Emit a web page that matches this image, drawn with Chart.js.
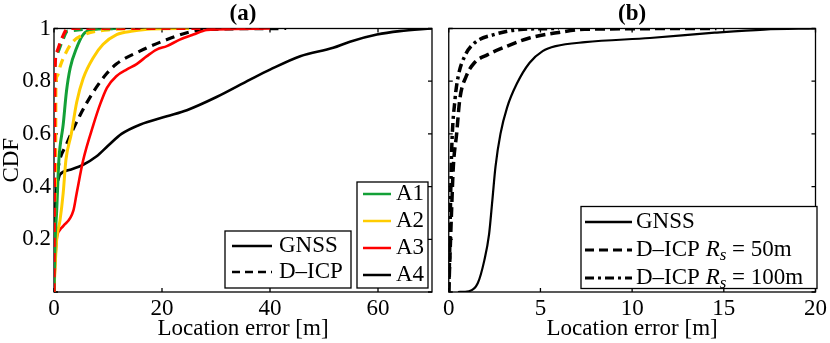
<!DOCTYPE html>
<html>
<head>
<meta charset="utf-8">
<script src="https://cdn.jsdelivr.net/npm/chart.js@4.4.1/dist/chart.umd.min.js"></script>
<style>
  html, body { margin: 0; padding: 0; background: #fff; }
  #wrap { position: relative; width: 830px; height: 343px; }
  #leftBox { position: absolute; left: 0; top: 0; width: 440px; height: 343px; }
  #rightBox { position: absolute; left: 440px; top: 0; width: 390px; height: 343px; }
</style>
</head>
<body>
<div id="wrap">
  <div id="leftBox"><canvas id="chartA"></canvas></div>
  <div id="rightBox"><canvas id="chartB"></canvas></div>
</div>
<script>
// ---- panel (a): CDF of location error per area, GNSS (solid) vs D-ICP (dashed)
var a1GnssX = [0, 0.1, 0.2, 0.5, 0.9, 1.7, 2.3, 3, 4.2, 5.4, 7.3, 12.5]
var a1GnssY = [0, 0.1, 0.19, 0.31, 0.5, 0.635, 0.76, 0.85, 0.927, 0.977, 0.997, 1]
var a1IcpX = [0, 0.03, 0.05, 0.1, 0.5, 1.5, 2.5, 12.2]
var a1IcpY = [0, 0.4, 0.7, 0.84, 0.9, 0.95, 0.99, 1]

var a2GnssX = [0, 0.1, 0.5, 1.1, 1.7, 2.2, 3.2, 4.2, 5.4, 7.3, 9.1, 11.6, 14.6, 18, 25]
var a2GnssY = [0, 0.05, 0.2, 0.27, 0.375, 0.5, 0.6, 0.72, 0.81, 0.89, 0.94, 0.977, 0.99, 0.998, 1]
var a2IcpX = [0, 0.1, 0.3, 0.35, 0.6, 1.2, 2, 3.5, 6, 10, 15]
var a2IcpY = [0, 0.3, 0.5, 0.78, 0.82, 0.86, 0.9, 0.95, 0.98, 0.995, 1]

var a3GnssX = [0, 0.2, 0.5, 1.1, 1.7, 3.6, 4.2, 5.4, 7.3, 8.5, 9.8, 11.6, 13.5, 15.3, 17.2, 19, 20.9, 23.3, 25.8, 28.3, 33, 40]
var a3GnssY = [0, 0.1, 0.2, 0.236, 0.25, 0.31, 0.375, 0.5, 0.635, 0.71, 0.775, 0.82, 0.845, 0.865, 0.895, 0.92, 0.933, 0.958, 0.977, 0.994, 0.998, 1]
var a3IcpX = [0, 0.05, 0.1, 0.2, 0.5, 1.4, 2.6, 38]
var a3IcpY = [0, 0.3, 0.51, 0.85, 0.91, 0.96, 1, 1]

var a4GnssX = [0, 0.2, 0.3, 0.8, 1.1, 3, 5.4, 7.9, 10, 12.5, 15.9, 20.9, 24.6, 30.1, 36.3, 40, 45.6, 51.7, 54.8, 59.8, 64, 70]
var a4GnssY = [0, 0.2, 0.35, 0.426, 0.445, 0.464, 0.483, 0.515, 0.555, 0.6, 0.635, 0.667, 0.69, 0.74, 0.806, 0.844, 0.895, 0.927, 0.95, 0.977, 0.99, 1]
var a4IcpX = [0, 0.2, 0.4, 0.8, 2.3, 4.8, 7.3, 9.8, 11.6, 15.9, 20.9, 24.6, 28.3, 43]
var a4IcpY = [0, 0.2, 0.4, 0.476, 0.56, 0.67, 0.76, 0.83, 0.866, 0.914, 0.958, 0.984, 0.996, 1]

// ---- panel (b): GNSS vs D-ICP for two sensing ranges
var bGnssX = [0.5, 1.1, 1.58, 1.94, 2.2, 2.38, 2.55, 2.82, 3.18, 3.71, 4.41, 5.12, 5.83, 7.43, 10.97, 14.5, 17.2, 20]
var bGnssY = [0, 0.003, 0.033, 0.12, 0.22, 0.35, 0.476, 0.6, 0.7, 0.79, 0.87, 0.914, 0.933, 0.948, 0.964, 0.984, 0.996, 1]
var b50X = [0, 0.05, 0.15, 0.25, 0.43, 0.6, 0.96, 1.4, 2.1, 3.18, 4.4, 6, 7.4, 14.6]
var b50Y = [0, 0.1, 0.3, 0.476, 0.6, 0.73, 0.82, 0.87, 0.9, 0.933, 0.964, 0.985, 0.997, 1]
var b100X = [0, 0.05, 0.1, 0.16, 0.34, 0.52, 0.87, 1.4, 2.47, 3.9, 6]
var b100Y = [0, 0.15, 0.35, 0.54, 0.73, 0.82, 0.895, 0.945, 0.977, 0.996, 1]

var GREEN = '#13a037'
var YELLOW = '#ffcc00'
var RED = '#ff0000'
var BLACK = '#000000'
var FONT = 'Liberation Serif, Times New Roman, serif'
var FS = 23

function pts(xs, ys){
  return xs.map(function(x, i){ return {x: x, y: ys[i]} })
}
function line(label, xs, ys, color, dash, width){
  return {
    label: label,
    data: pts(xs, ys),
    borderColor: color,
    backgroundColor: color,
    borderWidth: width,
    borderDash: dash,
    pointRadius: 0,
    cubicInterpolationMode: 'monotone',
    fill: false
  }
}

// axes box with inward ticks, matlab style
var framePlugin = {
  id: 'frame',
  beforeDatasetsDraw: function(chart){
    var ctx = chart.ctx, a = chart.chartArea
    var sx = chart.scales.x, sy = chart.scales.y
    ctx.save()
    ctx.strokeStyle = '#000'
    ctx.lineWidth = 1.3
    ctx.strokeRect(a.left, a.top, a.right - a.left, a.bottom - a.top)
    ctx.beginPath()
    sx.ticks.forEach(function(t){
      var px = sx.getPixelForValue(t.value)
      ctx.moveTo(px, a.bottom); ctx.lineTo(px, a.bottom - 4)
      ctx.moveTo(px, a.top); ctx.lineTo(px, a.top + 4)
    })
    sy.ticks.forEach(function(t){
      var py = sy.getPixelForValue(t.value)
      ctx.moveTo(a.left, py); ctx.lineTo(a.left + 4, py)
      ctx.moveTo(a.right, py); ctx.lineTo(a.right - 4, py)
    })
    ctx.stroke()
    ctx.restore()
  }
}

// panel title + legend boxes
function boxPlugin(title, legends){
  return {
    id: 'boxes',
    afterDraw: function(chart){
      var ctx = chart.ctx, a = chart.chartArea
      ctx.save()
      ctx.fillStyle = '#000'
      ctx.font = 'bold 23px ' + FONT
      ctx.textAlign = 'center'
      ctx.textBaseline = 'middle'
      ctx.fillText(title, (a.left + a.right) / 2, 14)
      legends.forEach(function(lg){
        ctx.fillStyle = '#fff'
        ctx.fillRect(lg.x, lg.y, lg.w, lg.h)
        ctx.strokeStyle = '#000'
        ctx.lineWidth = 1.3
        ctx.setLineDash([])
        ctx.strokeRect(lg.x, lg.y, lg.w, lg.h)
        lg.rows.forEach(function(r){
          ctx.beginPath()
          ctx.strokeStyle = r.color
          ctx.lineWidth = r.width
          ctx.setLineDash(r.dash)
          ctx.moveTo(lg.lx0, r.y); ctx.lineTo(lg.lx1, r.y)
          ctx.stroke()
          ctx.setLineDash([])
          ctx.fillStyle = '#000'
          ctx.textAlign = 'left'
          ctx.textBaseline = 'middle'
          var x = lg.tx
          r.parts.forEach(function(p){
            ctx.font = (p.italic ? 'italic ' : '') + (p.size || FS) + 'px ' + FONT
            ctx.fillText(p.t, x, r.y + (p.dy || 0))
            x += ctx.measureText(p.t).width
          })
        })
      })
      ctx.restore()
    }
  }
}

function tickFmt(v){ return v === 0 ? '' : String(+v.toFixed(1)) }

var legendA1 = {x: 225, y: 231, w: 126, h: 57, lx0: 232, lx1: 272, tx: 279, rows: [
  {y: 246, color: BLACK, dash: [], width: 2.5, parts: [{t: 'GNSS'}]},
  {y: 272, color: BLACK, dash: [8, 5], width: 2.5, parts: [{t: 'D\u2013ICP'}]}
]}
var legendA2 = {x: 357, y: 182, w: 71, h: 106, lx0: 363, lx1: 391, tx: 396, rows: [
  {y: 194, color: GREEN, dash: [], width: 2.5, parts: [{t: 'A1'}]},
  {y: 221, color: YELLOW, dash: [], width: 2.5, parts: [{t: 'A2'}]},
  {y: 248, color: RED, dash: [], width: 2.5, parts: [{t: 'A3'}]},
  {y: 275, color: BLACK, dash: [], width: 2.5, parts: [{t: 'A4'}]}
]}
var legendB = {x: 141, y: 206.5, w: 236, h: 82, lx0: 145, lx1: 192, tx: 196, rows: [
  {y: 222, color: BLACK, dash: [], width: 2.5, parts: [{t: 'GNSS'}]},
  {y: 250, color: BLACK, dash: [9, 5], width: 3, parts: [{t: 'D\u2013ICP '}, {t: 'R', italic: true}, {t: 's', italic: true, size: 17, dy: 6}, {t: ' = 50m'}]},
  {y: 278, color: BLACK, dash: [9, 4, 3, 4], width: 3, parts: [{t: 'D\u2013ICP '}, {t: 'R', italic: true}, {t: 's', italic: true, size: 17, dy: 6}, {t: ' = 100m'}]}
]}

function scalesFor(xmax, xstep, showY, yWidth){
  return {
    x: {
      type: 'linear', min: 0, max: xmax,
      grid: {display: false, drawTicks: false},
      border: {display: false},
      ticks: {stepSize: xstep, includeBounds: false, padding: 3, color: '#000', maxRotation: 0,
        font: {family: FONT, size: FS}},
      title: {display: true, text: 'Location error [m]', color: '#000', padding: 0,
        font: {family: FONT, size: FS, lineHeight: 1.2}},
      afterFit: function(s){ s.height = 51 }
    },
    y: {
      type: 'linear', min: 0, max: 1,
      grid: {display: false, drawTicks: false},
      border: {display: false},
      ticks: {display: showY, stepSize: 0.2, padding: 3, color: '#000', callback: tickFmt,
        font: {family: FONT, size: FS}},
      title: {display: showY, text: 'CDF', color: '#000', padding: 0,
        font: {family: FONT, size: FS, lineHeight: 1.0}},
      afterFit: function(s){ s.width = yWidth }
    }
  }
}

Chart.defaults.animation = false

new Chart(document.querySelector('#chartA'), {
  type: 'line',
  data: {
    datasets: [
      line('A3 D-ICP', a3IcpX, a3IcpY, RED, [9, 6], 3.2),
      line('A1 D-ICP', a1IcpX, a1IcpY, GREEN, [9, 6], 3.2),
      line('A2 D-ICP', a2IcpX, a2IcpY, YELLOW, [9, 6], 3.2),
      line('A1 GNSS', a1GnssX, a1GnssY, GREEN, [], 3),
      line('A2 GNSS', a2GnssX, a2GnssY, YELLOW, [], 3),
      line('A3 GNSS', a3GnssX, a3GnssY, RED, [], 2.6),
      line('A4 D-ICP', a4IcpX, a4IcpY, BLACK, [9, 6], 3.2),
      line('A4 GNSS', a4GnssX, a4GnssY, BLACK, [], 2.6)
    ]
  },
  options: {
    responsive: true,
    maintainAspectRatio: false,
    layout: {padding: {top: 28.5, right: 8, left: 0, bottom: 0}},
    plugins: {legend: {display: false}, tooltip: {enabled: false}},
    scales: scalesFor(70, 20, true, 54)
  },
  plugins: [framePlugin, boxPlugin('(a)', [legendA1, legendA2])]
});

new Chart(document.querySelector('#chartB'), {
  type: 'line',
  data: {
    datasets: [
      line('D-ICP Rs = 100m', b100X, b100Y, BLACK, [9, 4, 3, 4], 3.5),
      line('D-ICP Rs = 50m', b50X, b50Y, BLACK, [10, 5], 3.5),
      line('GNSS', bGnssX, bGnssY, BLACK, [], 2.2)
    ]
  },
  options: {
    responsive: true,
    maintainAspectRatio: false,
    layout: {padding: {top: 28.5, right: 8, left: 6.7, bottom: 0}},
    plugins: {legend: {display: false}, tooltip: {enabled: false}},
    scales: scalesFor(20, 5, false, 0)
  },
  plugins: [framePlugin, boxPlugin('(b)', [legendB])]
});
</script>
</body>
</html>
